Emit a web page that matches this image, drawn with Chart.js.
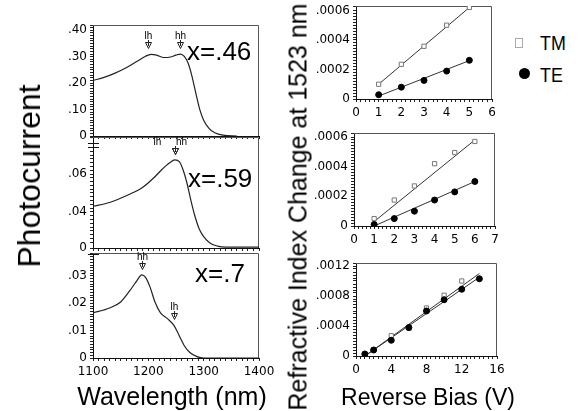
<!DOCTYPE html>
<html>
<head>
<meta charset="utf-8">
<script src="https://cdn.jsdelivr.net/npm/chart.js@4.4.0/dist/chart.umd.min.js"></script>
<style>
  body { margin: 0; background: #fff; }
  #page { position: relative; width: 581px; height: 411px; overflow: hidden; color: #000;
          font-family: "Liberation Sans", Arial, Helvetica, sans-serif; }
  .panel { position: absolute; }
  .panel canvas { display: block; }
  .txt { position: absolute; white-space: nowrap; line-height: 1; }
  .vert { transform: translate(-50%, -50%) rotate(-90deg); }
  .center { transform: translateX(-50%); }
  .narrow { transform: scaleX(0.85); transform-origin: left center; }
  .sq { position: absolute; width: 6px; height: 8px; border: 1px solid #aaa; background: #fff; }
  .dot { position: absolute; width: 11px; height: 11px; border-radius: 50%; background: #000; }
</style>
</head>
<body>
<div id="page">
  <div class="panel" id="p46"><canvas></canvas></div>
  <div class="panel" id="p59"><canvas></canvas></div>
  <div class="panel" id="p70"><canvas></canvas></div>
  <div class="panel" id="r1"><canvas></canvas></div>
  <div class="panel" id="r2"><canvas></canvas></div>
  <div class="panel" id="r3"><canvas></canvas></div>

  <div class="txt" style="left:187px;top:38px;font-size:26px">x=.46</div>
  <div class="txt" style="left:188px;top:165px;font-size:26px">x=.59</div>
  <div class="txt" style="left:195px;top:260px;font-size:26px">x=.7</div>

  <div class="txt vert" style="left:29px;top:176px;font-size:32px">Photocurrent</div>
  <div class="txt center" style="left:172px;top:384px;font-size:25px">Wavelength (nm)</div>
  <div class="txt vert" style="left:298px;top:207px;font-size:25px">Refractive Index Change at 1523 nm</div>
  <div class="txt center" style="left:428px;top:386px;font-size:23px">Reverse Bias (V)</div>

  <div class="sq" style="left:515px;top:38px"></div>
  <div class="txt narrow" style="left:540px;top:32px;font-size:21px">TM</div>
  <div class="dot" style="left:519px;top:68px"></div>
  <div class="txt narrow" style="left:540px;top:64px;font-size:21px">TE</div>
</div>

<script>
// Data: photocurrent spectra
const wl46 = [1100, 1120, 1140, 1160, 1180, 1195, 1205, 1215, 1228, 1240, 1250, 1258, 1265, 1272, 1279, 1286, 1293, 1300, 1310, 1320, 1335, 1360];
const pc46 = [0.21, 0.222, 0.238, 0.258, 0.283, 0.302, 0.309, 0.306, 0.297, 0.299, 0.306, 0.31, 0.301, 0.275, 0.225, 0.16, 0.1, 0.06, 0.028, 0.012, 0.003, 0];

const wl59 = [1100, 1130, 1160, 1190, 1210, 1225, 1238, 1248, 1256, 1263, 1270, 1277, 1284, 1292, 1300, 1312, 1325, 1340, 1400];
const pc59 = [0.043, 0.045, 0.0485, 0.053, 0.058, 0.0625, 0.0658, 0.0674, 0.0665, 0.062, 0.055, 0.046, 0.038, 0.031, 0.027, 0.0235, 0.022, 0.0215, 0.0215];

const wl70 = [1100, 1130, 1150, 1170, 1180, 1188, 1195, 1203, 1212, 1222, 1235, 1246, 1255, 1265, 1275, 1288, 1300, 1400];
const pc70 = [0.0165, 0.0183, 0.0205, 0.0256, 0.0285, 0.0304, 0.0295, 0.026, 0.0205, 0.0165, 0.0143, 0.012, 0.0085, 0.0045, 0.002, 0.0005, 0, 0];

// Peak labels (wavelength, photocurrent)
const peaks46 = [{x: 1200, y: 0.309, label: 'lh'}, {x: 1258, y: 0.31, label: 'hh'}];
const peaks59 = [{x: 1248, y: 0.0674, label: 'lh'}, {x: 1248, y: 0.0674, label: 'hh'}];
const peaks70 = [{x: 1188, y: 0.0304, label: 'hh'}, {x: 1246, y: 0.012, label: 'lh'}];

// Data: refractive index change vs reverse bias
const bias1 = [1, 2, 3, 4, 5];
const tm1 = [0.0001, 0.000235, 0.000357, 0.0005, 0.00062];
const te1 = [0.000029, 0.00008, 0.000126, 0.000189, 0.000262];
const tmFit1 = [[1, 0.0001], [5, 0.00062]];
const teFit1 = [[1, 0.00002], [5, 0.00026]];

const bias2 = [1, 2, 3, 4, 5, 6];
const tm2 = [0.00005, 0.000175, 0.00027, 0.00042, 0.000495, 0.00057];
const te2 = [0.00001, 0.00005, 0.0001, 0.000175, 0.00023, 0.0003];
const tmFit2 = [[1, 0.00003], [6, 0.00058]];
const teFit2 = [[1, 0], [6, 0.0003]];

const tmBias3 = [1, 2, 4, 6, 8, 10, 12];
const tm3 = [0.00001, 0.00008, 0.00027, 0.00037, 0.00064, 0.00081, 0.001];
const teBias3 = [1, 2, 4, 6, 8, 10, 12, 14];
const te3 = [0.000027, 0.00008, 0.00021, 0.00038, 0.0006, 0.00075, 0.00089, 0.00103];
const tmFit3 = [[1, 0], [14, 0.0011]];
const teFit3 = [[1, 0], [14, 0.00105]];

// Tick labels
const wavelengthTicks = [1100, 1200, 1300, 1400];
const pc46Ticks = [0, 0.1, 0.2, 0.3, 0.4];
const pc59Ticks = [0.04, 0.06];
const pc59BreakLabel = '0';
const pc70Ticks = [0, 0.01, 0.02, 0.03];
const bias6Ticks = [0, 1, 2, 3, 4, 5, 6];
const bias7Ticks = [0, 1, 2, 3, 4, 5, 6, 7];
const bias16Ticks = [0, 4, 8, 12, 16];
const dn6Ticks = [0, 0.0002, 0.0004, 0.0006];
const dn12Ticks = [0, 0.0004, 0.0008, 0.0012];

// Layout
const YW = 50, PT = 12, PR = 22, XH = 24;
const tickFont = {family: 'DejaVu Sans', size: 12};

// Helper Functions
function place(id, l, t, r, b) {
  const el = document.getElementById(id);
  const canvas = el.querySelector('canvas');
  const w = r - l + YW + PR, h = b - t + PT + XH;
  el.style.left = (l - YW) + 'px';
  el.style.top = (t - PT) + 'px';
  canvas.width = w;
  canvas.height = h;
  canvas.style.width = w + 'px';
  canvas.style.height = h + 'px';
  return canvas;
}

function points(xs, ys) {
  return xs.map((x, i) => ({x: x, y: ys[i]}));
}

function hasTick(list, v, step) {
  return list.some(t => Math.abs(t - v) < step * 1e-3);
}

function frac(v, digits) {
  return Math.abs(v) < 1e-12 ? '0' : v.toFixed(digits).replace(/^0/, '');
}

function axis(min, max, step, format, showLabels, isY) {
  return {
    type: 'linear', min: min, max: max,
    grid: {drawOnChartArea: false, drawTicks: true, tickLength: 3, color: '#222', lineWidth: 1},
    border: {display: true, color: '#111', width: 1},
    ticks: {
      stepSize: step, autoSkip: false, minRotation: 0, maxRotation: 0,
      display: showLabels, padding: isY ? 3 : 4, color: '#000', font: tickFont,
      callback: v => format(v)
    },
    afterFit: s => { if (isY) s.width = YW; else s.height = XH; }
  };
}

const framePlugin = {
  id: 'frame',
  beforeDatasetsDraw(chart, args, opts) {
    const {ctx, chartArea: a} = chart;
    ctx.save();
    ctx.strokeStyle = '#555';
    ctx.lineWidth = 1;
    ctx.beginPath();
    ctx.moveTo(Math.round(a.left), Math.round(a.top) + 0.5);
    ctx.lineTo(Math.round(a.right) - 0.5, Math.round(a.top) + 0.5);
    ctx.lineTo(Math.round(a.right) - 0.5, Math.round(a.bottom));
    ctx.stroke();
    ctx.strokeStyle = '#111';
    (opts.breaks || []).forEach(dy => {
      ctx.beginPath();
      ctx.moveTo(a.left - 5, Math.round(a.top + dy) + 0.5);
      ctx.lineTo(a.left + 6, Math.round(a.top + dy) + 0.5);
      ctx.stroke();
    });
    ctx.restore();
  }
};

const peakPlugin = {
  id: 'peaks',
  afterDatasetsDraw(chart, args, opts) {
    const items = opts.items || [];
    const offsets = opts.offsets || [];
    const {ctx, scales: {x, y}} = chart;
    ctx.save();
    ctx.strokeStyle = '#222';
    ctx.fillStyle = '#000';
    ctx.lineWidth = 1;
    ctx.font = '10px "Liberation Sans", Arial, sans-serif';
    ctx.textAlign = 'center';
    ctx.textBaseline = 'alphabetic';
    items.forEach((p, i) => {
      const px = Math.round(x.getPixelForValue(p.x)) + 0.5;
      const py = Math.round(y.getPixelForValue(p.y));
      ctx.beginPath();
      ctx.moveTo(px - 3, py - 11.5);
      ctx.lineTo(px + 3, py - 11.5);
      ctx.lineTo(px, py - 5.5);
      ctx.closePath();
      ctx.moveTo(px, py - 14);
      ctx.lineTo(px, py - 8);
      ctx.stroke();
      ctx.fillText(p.label, px + (offsets[i] || 0), py - 15);
    });
    ctx.restore();
  }
};

const basePlugins = {legend: {display: false}, tooltip: {enabled: false}};

function spectrumChart(canvas, wl, pc, y, peaks, offsets, breaks, showX) {
  return new Chart(canvas, {
    type: 'scatter',
    data: {
      datasets: [{
        data: points(wl, pc),
        showLine: true,
        borderColor: '#222',
        borderWidth: 1.2,
        pointRadius: 0,
        cubicInterpolationMode: 'monotone'
      }]
    },
    options: {
      responsive: false, animation: false,
      layout: {padding: {top: PT, right: PR, left: 0, bottom: 0}},
      scales: {
        x: axis(1100, 1400, 10,
          v => hasTick(wavelengthTicks, v, 10) ? String(v) : '', showX, false),
        y: axis(y.min, y.max, y.step, y.format, true, true)
      },
      plugins: Object.assign({}, basePlugins, {
        frame: {breaks: breaks},
        peaks: {items: peaks, offsets: offsets}
      })
    },
    plugins: [framePlugin, peakPlugin]
  });
}

function biasChart(canvas, x, y, tmX, tmY, teX, teY, tmFit, teFit) {
  const fitLine = fit => ({
    data: fit.map(p => ({x: p[0], y: p[1]})),
    showLine: true, borderColor: '#333', borderWidth: 1, pointRadius: 0
  });
  return new Chart(canvas, {
    type: 'scatter',
    data: {
      datasets: [
        {label: 'TE', data: points(teX, teY), pointStyle: 'circle', pointRadius: 3,
         backgroundColor: '#000', borderColor: '#000', borderWidth: 1},
        {label: 'TM', data: points(tmX, tmY), pointStyle: 'rect', pointRadius: 3,
         backgroundColor: '#fff', borderColor: '#777', borderWidth: 1},
        fitLine(teFit),
        fitLine(tmFit)
      ]
    },
    options: {
      responsive: false, animation: false,
      layout: {padding: {top: PT, right: PR, left: 0, bottom: 0}},
      scales: {
        x: axis(x.min, x.max, x.step,
          v => hasTick(x.ticks, v, x.step) ? String(Math.round(v)) : '', true, false),
        y: axis(y.min, y.max, y.step,
          v => hasTick(y.ticks, v, y.step) ? frac(v, 4) : '', true, true)
      },
      plugins: Object.assign({}, basePlugins, {frame: {}})
    },
    plugins: [framePlugin]
  });
}

// Render
spectrumChart(place('p46', 93, 25, 259, 136), wl46, pc46,
  {min: 0, max: 0.42, step: 0.01,
   format: v => hasTick(pc46Ticks, v, 0.01) ? frac(v, 2) : ''},
  peaks46, [0, 0], [], false);

const min59 = 0.021;
spectrumChart(place('p59', 93, 137, 259, 248), wl59, pc59,
  {min: min59, max: 0.0795, step: 0.002,
   format: v => Math.abs(v - min59) < 1e-9 ? pc59BreakLabel : (hasTick(pc59Ticks, v, 0.002) ? frac(v, 2) : '')},
  peaks59, [-18, 6], [6, 10], false);

spectrumChart(place('p70', 93, 253, 259, 358), wl70, pc70,
  {min: 0, max: 0.0384, step: 0.001,
   format: v => hasTick(pc70Ticks, v, 0.001) ? frac(v, 2) : ''},
  peaks70, [0, 0], [1], true);

biasChart(place('r1', 356, 6, 492, 99),
  {min: 0, max: 6, step: 0.2, ticks: bias6Ticks},
  {min: 0, max: 0.00063, step: 0.00002, ticks: dn6Ticks},
  bias1, tm1, bias1, te1, tmFit1, teFit1);

biasChart(place('r2', 354, 133, 495, 226),
  {min: 0, max: 7, step: 0.2, ticks: bias7Ticks},
  {min: 0, max: 0.000627, step: 0.00002, ticks: dn6Ticks},
  bias2, tm2, bias2, te2, tmFit2, teFit2);

biasChart(place('r3', 356, 263, 497, 356),
  {min: 0, max: 16, step: 0.5, ticks: bias16Ticks},
  {min: 0, max: 0.00124, step: 0.00004, ticks: dn12Ticks},
  tmBias3, tm3, teBias3, te3, tmFit3, teFit3);
</script>
</body>
</html>
